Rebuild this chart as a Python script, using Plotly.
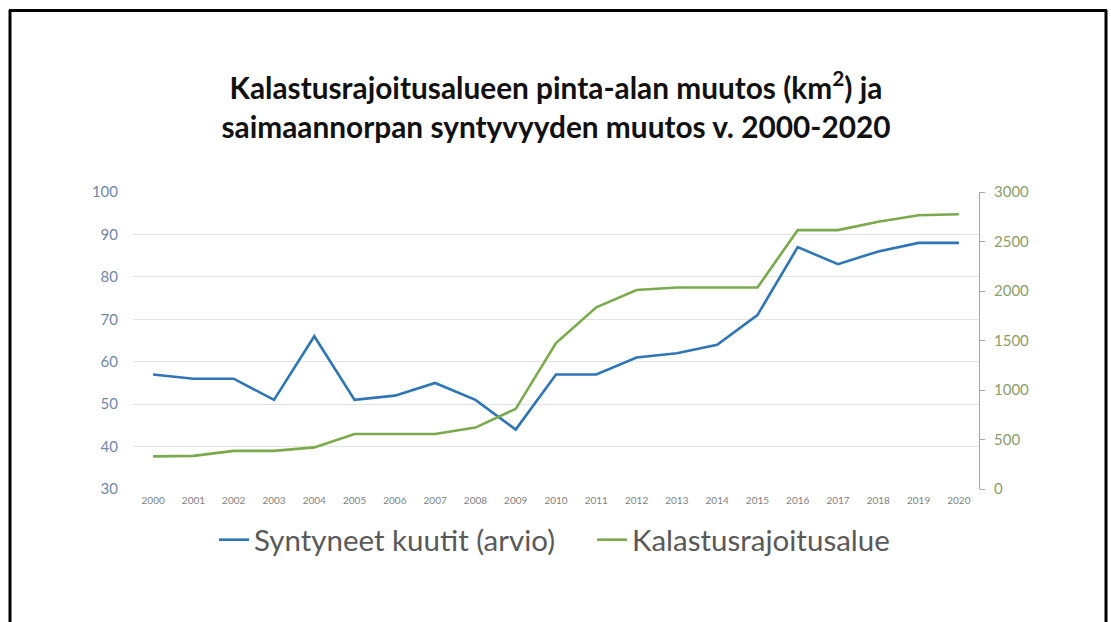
import plotly.graph_objects as go

years = [str(y) for y in range(2000, 2021)]
kuutit = [57, 56, 56, 51, 66, 51, 52, 55, 51, 44, 57, 57, 61, 62, 64, 71, 87, 83, 86, 88, 88]
alue = [330, 335, 385, 385, 420, 555, 555, 555, 620, 810, 1475, 1835, 2010, 2035, 2035, 2035, 2615, 2615, 2700, 2765, 2775]

title_text = "Kalastusrajoitusalueen pinta-alan muutos (km<sup>2</sup>) ja<br>saimaannorpan syntyvyyden muutos v. 2000-2020"
name1 = "Syntyneet kuutit (arvio)"
name2 = "Kalastusrajoitusalue"

W, H = 1111, 622
L, R, T, B = 133, 979, 192, 489

def px(x):
    return (x - L) / (R - L)

def py(y):
    return (B - y) / (B - T)

fig = go.Figure()
fig.add_trace(go.Scatter(x=years, y=kuutit, name=name1, mode="lines",
                         line=dict(color="#2e75b6", width=2.6), yaxis="y"))
fig.add_trace(go.Scatter(x=years, y=alue, name=name2, mode="lines",
                         line=dict(color="#7aaa4c", width=2.6), yaxis="y2"))

fig.update_layout(
    width=W, height=H,
    margin=dict(l=L, r=W - R, t=T, b=H - B),
    paper_bgcolor="white", plot_bgcolor="white",
    font=dict(family="Lato, Carlito, sans-serif", color="#595959"),
    title=dict(text=title_text, x=0.5, xanchor="center", xref="paper",
               y=1 - 99 / H, yanchor="middle",
               font=dict(size=29.8, color="#111111", family="Lato, sans-serif", weight="bold")),
    xaxis=dict(type="category", range=[-0.5, 20.5], showgrid=False, showline=False,
               ticks="", tickfont=dict(size=10, color="#7f7f7f"), ticklabelstandoff=4),
    yaxis=dict(range=[30, 100], dtick=10, showgrid=True, gridcolor="#e3e3e3", gridwidth=1,
               zeroline=False, showline=False, ticks="",
               tickfont=dict(size=15, color="#6f88aa"), ticklabelstandoff=14),
    yaxis2=dict(range=[0, 3000], dtick=500, overlaying="y", side="right", showgrid=False,
                zeroline=False, showline=True, linecolor="#a6a6a6", linewidth=1,
                ticks="outside", ticklen=5, tickcolor="#a6a6a6",
                tickfont=dict(size=15, color="#88a06a"), ticklabelstandoff=6),
    legend=dict(orientation="h", x=px(214), xanchor="left", y=py(540), yanchor="middle",
                font=dict(size=29.5, color="#595959"), itemwidth=30,
                entrywidth=333, entrywidthmode="pixels", bgcolor="rgba(0,0,0,0)"),
    showlegend=True,
)

# slide frame
fig.add_shape(type="line", xref="paper", yref="paper",
              x0=px(10), x1=px(10), y0=py(10), y1=py(640),
              line=dict(color="black", width=3))
fig.add_shape(type="line", xref="paper", yref="paper",
              x0=px(1106), x1=px(1106), y0=py(10), y1=py(640),
              line=dict(color="black", width=3))
fig.add_shape(type="line", xref="paper", yref="paper",
              x0=px(9), x1=px(1107), y0=py(10.5), y1=py(10.5),
              line=dict(color="black", width=3))

fig.write_html("out.html", config={"displayModeBar": False},
               post_script="document.body.style.margin='0';document.body.style.overflow='hidden';")
